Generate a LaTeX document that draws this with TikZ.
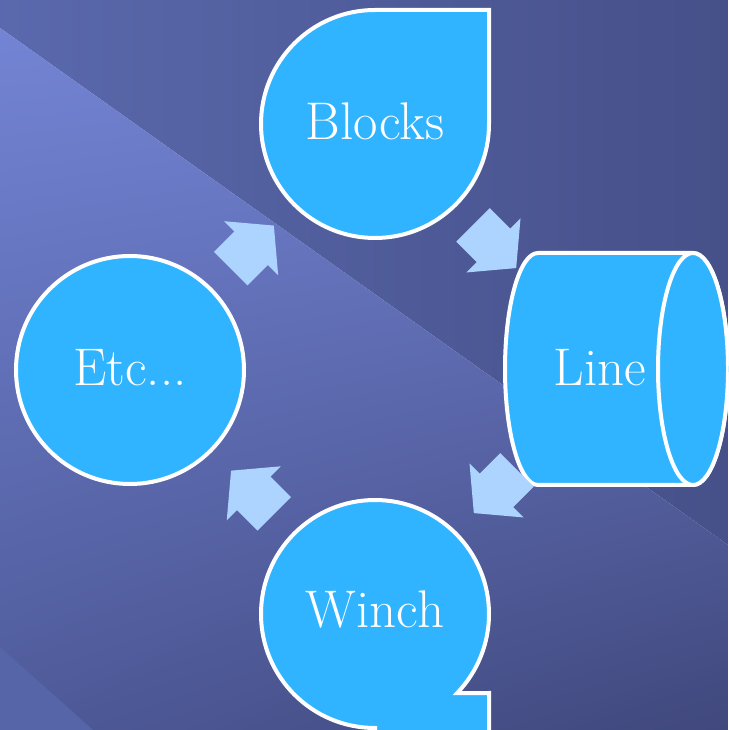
\documentclass[tikz,border=0pt]{standalone}
\usepackage{tikz}
\usetikzlibrary{calc,shapes.arrows,shadings}
\definecolor{flowSky}{HTML}{30B4FF}
\definecolor{flowPale}{HTML}{ADD4FF}
\definecolor{bgTopL}{HTML}{5A69AD}
\definecolor{bgTopR}{HTML}{465089}
\definecolor{bgGlowL}{HTML}{7384D4}
\definecolor{bgGlowR}{HTML}{7080D0}
\definecolor{bgLowL}{HTML}{4E5A99}
\definecolor{bgLowR}{HTML}{40487C}
\definecolor{bgCorner}{HTML}{5565A8}
\tikzset{
  bubble/.style={draw=white, line width=4pt, fill=flowSky},
  lbl/.style={text=white, inner sep=0pt, font=\fontsize{53}{60}\selectfont},
  flowarrow/.style={single arrow, fill=flowPale, draw=none, anchor=tip,
    inner xsep=0pt, inner ysep=23.5pt,
    minimum width=76pt, minimum height=61pt,
    single arrow head extend=14.5pt, single arrow tip angle=100}
}
\begin{document}
\begin{tikzpicture}[x=1pt,y=1pt]
  \useasboundingbox (0,0) rectangle (728,730);
  \clip (0,0) rectangle (728,730);
  % background with the light streak
  \shade[left color=bgTopL, right color=bgTopR] (0,730) -- (728,730) -- (728,185) -- (0,702) -- cycle;
  \shade[upper left=bgGlowL, upper right=bgGlowR, lower left=bgLowL, lower right=bgLowR] (0,702) -- (728,185) -- (728,0) -- (0,0) -- cycle;
  \fill[bgCorner] (0,83) -- (93,0) -- (0,0) -- cycle;
  % shape centres
  \coordinate (cBlocks) at (375,606);
  \coordinate (cLine) at (615,361);
  \coordinate (cWinch) at (375,116);
  \coordinate (cEtc) at (130,360);
  % the four steps
  \draw[bubble] (489,606) arc[start angle=0, end angle=-270, radius=114] -- (489,720) -- cycle;
  \draw[bubble] (693,477) -- (538,477) arc[start angle=90, end angle=270, x radius=33, y radius=116] -- (693,245) arc[start angle=-90, end angle=90, x radius=35, y radius=116] -- cycle;
  \draw[bubble] (693,361) ellipse[x radius=35, y radius=116];
  \draw[bubble] (261,116) arc[start angle=180, end angle=-43.9, radius=114] -- (489,37) -- (489,-6) -- (375,-6) -- (375,2) arc[start angle=270, end angle=180, radius=114] -- cycle;
  \node[bubble, circle, minimum size=228pt] (etcshape) at (cEtc) {};
  \node[lbl] (blocks) at (375,609) {Blocks};
  \node[lbl] (line) at (600,362) {Line};
  \node[lbl] (winch) at (375,120) {Winch};
  \node[lbl] (etc) at (130,362) {Etc...};
  % arrows between the steps (tip 30.5pt past the midpoint)
  \node[flowarrow, rotate=45] (toBlocks) at ($(cEtc)!0.5!(cBlocks)!30.5pt!(cBlocks)$) {};
  \node[flowarrow, rotate=-45] (toLine) at ($(cBlocks)!0.5!(cLine)!30.5pt!(cLine)$) {};
  \node[flowarrow, rotate=-135] (toWinch) at ($(cLine)!0.5!(cWinch)!30.5pt!(cWinch)$) {};
  \node[flowarrow, rotate=135] (toEtc) at ($(cWinch)!0.5!(cEtc)!30.5pt!(cEtc)$) {};
\end{tikzpicture}
\end{document}
